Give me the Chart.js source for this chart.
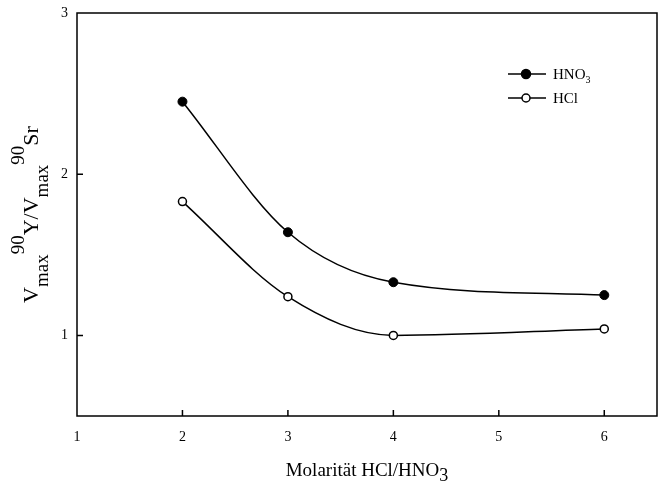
<!DOCTYPE html>
<html>
<head>
<meta charset="utf-8">
<script src="https://cdn.jsdelivr.net/npm/chart.js@4.4.1/dist/chart.umd.min.js"></script>
<style>
  html, body { margin: 0; padding: 0; background: #fff; }
  #wrap { width: 658px; height: 482px; }
</style>
</head>
<body>
<div id="wrap"><canvas id="molChart" width="658" height="482"></canvas></div>
<script>
// Values
const molarity = [2, 3, 4, 6];
const hno3Values = [2.45, 1.64, 1.33, 1.25];
const hclValues = [1.83, 1.24, 1.00, 1.04];
const xTicks = [1, 2, 3, 4, 5, 6];
const yTicks = [1, 2, 3];

const serif = '"Liberation Serif", "Times New Roman", serif';

// draws text made of pieces with sub/superscripts, centred on (cx, cy)
function drawRich(ctx, parts, cx, cy, rotate) {
  ctx.save();
  ctx.translate(cx, cy);
  if (rotate) ctx.rotate(-Math.PI / 2);
  let total = 0;
  parts.forEach(p => {
    ctx.font = p.size + 'px ' + serif;
    p.w = ctx.measureText(p.text).width;
    total += p.w;
  });
  let x = -total / 2;
  ctx.fillStyle = '#000';
  ctx.textBaseline = 'alphabetic';
  ctx.textAlign = 'left';
  parts.forEach(p => {
    ctx.font = p.size + 'px ' + serif;
    ctx.fillText(p.text, x, p.dy || 0);
    x += p.w;
  });
  ctx.restore();
}

const framePlugin = {
  id: 'frame',
  afterDatasetsDraw(chart) {
    const ctx = chart.ctx;
    const a = chart.chartArea;
    const xs = chart.scales.x, ys = chart.scales.y;
    ctx.save();
    ctx.strokeStyle = '#000';
    ctx.lineWidth = 1.5;
    ctx.strokeRect(a.left, a.top, a.right - a.left, a.bottom - a.top);
    // inward tick marks
    ctx.beginPath();
    xTicks.forEach(v => {
      const px = xs.getPixelForValue(v);
      if (px > a.left + 1 && px < a.right - 1) {
        ctx.moveTo(px, a.bottom);
        ctx.lineTo(px, a.bottom - 6);
      }
    });
    yTicks.forEach(v => {
      const py = ys.getPixelForValue(v);
      if (py > a.top + 1 && py < a.bottom - 1) {
        ctx.moveTo(a.left, py);
        ctx.lineTo(a.left + 6, py);
      }
    });
    ctx.stroke();

    // legend inside the plot, top right
    const items = [
      { ds: chart.data.datasets[0], parts: [{ text: 'HNO', size: 15 }, { text: '3', size: 10, dy: 4 }] },
      { ds: chart.data.datasets[1], parts: [{ text: 'HCl', size: 15 }] }
    ];
    items.forEach((it, i) => {
      const y = a.top + 61 + i * 24;
      const x0 = a.right - 149;
      ctx.beginPath();
      ctx.strokeStyle = '#000';
      ctx.lineWidth = 1.5;
      ctx.moveTo(x0, y);
      ctx.lineTo(x0 + 38, y);
      ctx.stroke();
      ctx.beginPath();
      ctx.arc(x0 + 18, y, it.ds.pointRadius, 0, Math.PI * 2);
      ctx.fillStyle = it.ds.pointBackgroundColor;
      ctx.fill();
      ctx.stroke();
      let tx = x0 + 45;
      ctx.fillStyle = '#000';
      ctx.textAlign = 'left';
      it.parts.forEach(p => {
        ctx.font = p.size + 'px ' + serif;
        ctx.fillText(p.text, tx, y + 5 + (p.dy || 0));
        tx += ctx.measureText(p.text).width;
      });
    });
    ctx.restore();

    // axis titles
    drawRich(ctx, [
      { text: 'Molarität HCl/HNO', size: 19 },
      { text: '3', size: 18, dy: 5 }
    ], (a.left + a.right) / 2, 476, false);
    drawRich(ctx, [
      { text: 'V', size: 22 },
      { text: 'max', size: 19, dy: 10 },
      { text: '90', size: 19, dy: -14 },
      { text: 'Y/V', size: 22 },
      { text: 'max', size: 19, dy: 10 },
      { text: '90', size: 19, dy: -14 },
      { text: 'Sr', size: 22 }
    ], 38, (a.top + a.bottom) / 2, true);
  }
};

const chartData = {
  datasets: [
    {
      label: 'HNO3',
      data: molarity.map((m, i) => ({ x: m, y: hno3Values[i] })),
      borderColor: '#000',
      borderWidth: 1.5,
      pointRadius: 4.5,
      pointBackgroundColor: '#000',
      pointBorderColor: '#000',
      pointBorderWidth: 1,
      cubicInterpolationMode: 'monotone',
      fill: false
    },
    {
      label: 'HCl',
      data: molarity.map((m, i) => ({ x: m, y: hclValues[i] })),
      borderColor: '#000',
      borderWidth: 1.5,
      pointRadius: 4,
      pointBackgroundColor: '#fff',
      pointBorderColor: '#000',
      pointBorderWidth: 1.5,
      cubicInterpolationMode: 'monotone',
      fill: false
    }
  ]
};

const config = {
  type: 'line',
  data: chartData,
  options: {
    responsive: false,
    animation: false,
    layout: { autoPadding: false, padding: { top: 13, right: 1, left: 0, bottom: 0 } },
    plugins: { legend: { display: false }, tooltip: { enabled: false } },
    scales: {
      x: {
        type: 'linear',
        min: 1,
        max: 6.5,
        afterBuildTicks: s => { s.ticks = xTicks.map(v => ({ value: v })); },
        afterFit: s => { s.height = 66; s.paddingLeft = 0; s.paddingRight = 0; },
        grid: { display: false, drawTicks: false },
        border: { display: false },
        ticks: { color: '#000', padding: 13, maxRotation: 0, font: { family: serif, size: 14 } }
      },
      y: {
        min: 0.5,
        max: 3,
        afterBuildTicks: s => { s.ticks = yTicks.map(v => ({ value: v })); },
        afterFit: s => { s.width = 77; s.paddingTop = 0; s.paddingBottom = 0; },
        grid: { display: false, drawTicks: false },
        border: { display: false },
        ticks: { color: '#000', padding: 9, font: { family: serif, size: 14 } }
      }
    }
  },
  plugins: [framePlugin]
};

try {
  new Chart(document.getElementById('molChart').getContext('2d'), config);
} catch (error) {
  console.error('Error rendering the chart:', error);
}
</script>
</body>
</html>
